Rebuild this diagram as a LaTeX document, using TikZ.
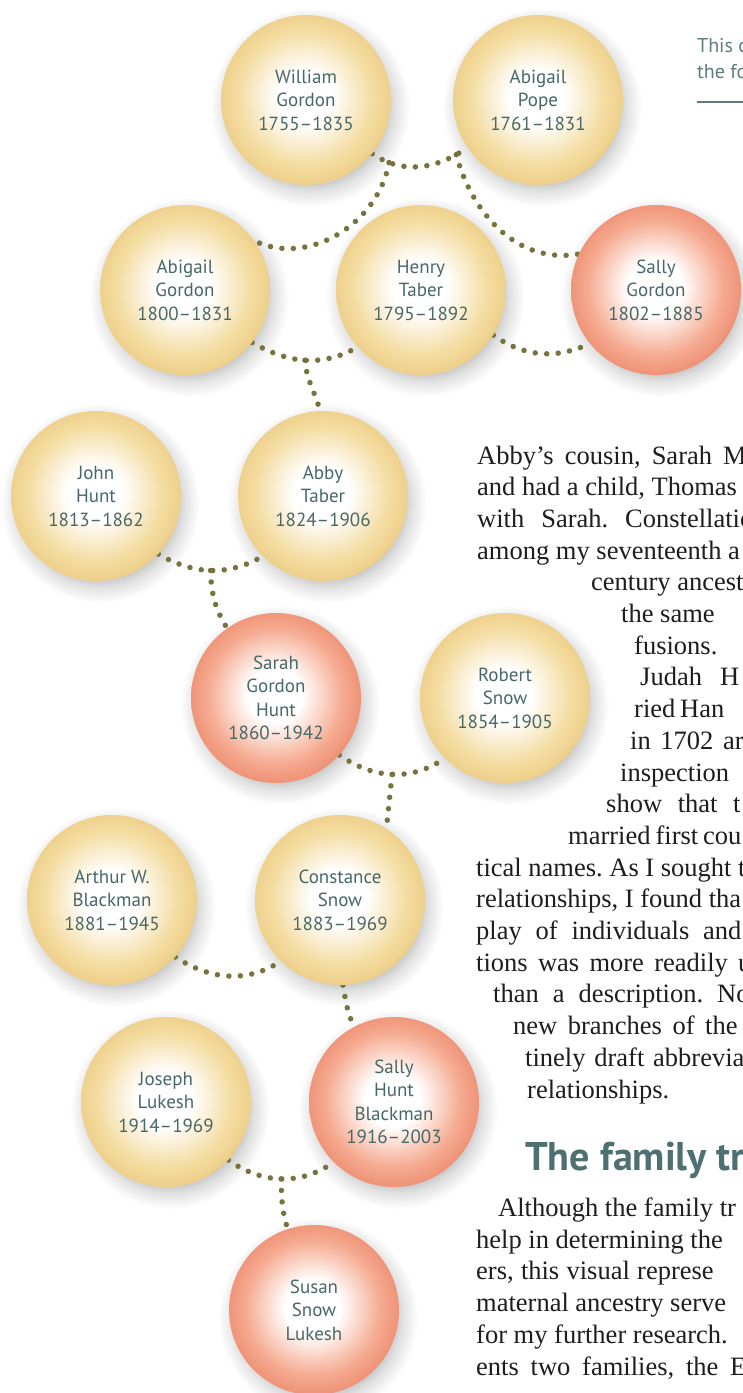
\documentclass[tikz,border=0pt]{standalone}
\usepackage{fontspec}
\setmainfont{Liberation Serif}
\newfontfamily\ballfont{PT Sans}
\usetikzlibrary{backgrounds,fadings}
\frenchspacing

\definecolor{goldmid}{RGB}{244,220,160}
\definecolor{goldedge}{RGB}{238,208,140}
\definecolor{goldrim}{RGB}{150,120,65}
\definecolor{rosemid}{RGB}{245,170,144}
\definecolor{roseedge}{RGB}{239,148,120}
\definecolor{roserim}{RGB}{150,80,62}
\definecolor{nametext}{RGB}{72,104,104}
\definecolor{kinline}{RGB}{120,114,62}
\definecolor{headteal}{RGB}{78,112,112}
\definecolor{notegray}{RGB}{96,124,124}
\definecolor{bodyblack}{RGB}{30,30,30}

\pgfdeclareradialshading{goldglow}{\pgfpoint{-0.5bp}{1bp}}{color(0bp)=(white); color(8bp)=(white); color(20bp)=(goldmid); color(25bp)=(goldedge); color(50bp)=(goldedge)}
\pgfdeclareradialshading{roseglow}{\pgfpoint{-0.5bp}{1bp}}{color(0bp)=(white); color(8bp)=(white); color(20bp)=(rosemid); color(25bp)=(roseedge); color(50bp)=(roseedge)}
\pgfdeclareradialshading{ballshadow}{\pgfpointorigin}{color(0bp)=(black!28); color(18bp)=(black!26); color(21bp)=(black!12); color(25bp)=(white); color(50bp)=(white)}
\pgfdeclareradialshading{rimfadeshade}{\pgfpointorigin}{color(0bp)=(black); color(34bp)=(black); color(50bp)=(white)}
\pgfdeclarefading{rimfade}{\pgfuseshading{rimfadeshade}}

\newcommand\spreadto[2]{\makebox[#1pt][s]{#2}}

\tikzset{
  person/.style={circle, minimum size=170pt, inner sep=0pt, align=center,
    text=nametext, font=\ballfont\fontsize{19}{23.5}\selectfont},
  goldball/.style={person, shade, shading=goldglow,
    postaction={fill=goldrim, fill opacity=0.8, path fading=rimfade,
      fading transform={shift={(-12,12)}, scale=1.2}}},
  roseball/.style={person, shade, shading=roseglow,
    postaction={fill=roserim, fill opacity=0.7, path fading=rimfade,
      fading transform={shift={(-12,12)}, scale=1.2}}},
  kin/.style={draw=kinline, line width=5.5pt, line cap=round, dash pattern=on 0pt off 11.5pt},
  body/.style={anchor=base west, inner sep=0pt, text=bodyblack,
    font=\fontsize{26.5}{31.7}\selectfont},
  heading/.style={anchor=base west, inner sep=0pt, text=headteal,
    font=\ballfont\bfseries\fontsize{40}{48}\selectfont},
  note/.style={anchor=base west, inner sep=0pt, text=notegray,
    font=\ballfont\fontsize{20}{26}\selectfont}
}

\begin{document}
\begin{tikzpicture}[x=1pt, y=1pt]
  \useasboundingbox (0,0) rectangle (743,-1393);
  \clip (0,0) rectangle (743,-1393);

  \node[goldball] (wgordon) at (306,-100) {William\\Gordon\\1755–1835};
  \node[goldball] (apope) at (538,-100) {Abigail\\Pope\\1761–1831};
  \node[goldball] (agordon) at (185,-290) {Abigail\\Gordon\\1800–1831};
  \node[goldball] (htaber) at (421,-290) {Henry\\Taber\\1795–1892};
  \node[roseball] (sgordon) at (656,-290) {Sally\\Gordon\\1802–1885};
  \node[goldball] (jhunt) at (96,-496) {John\\Hunt\\1813–1862};
  \node[goldball] (ataber) at (323,-496) {Abby\\Taber\\1824–1906};
  \node[roseball] (sghunt) at (276,-698) {Sarah\\Gordon\\Hunt\\1860–1942};
  \node[goldball] (rsnow) at (505,-698) {Robert\\Snow\\1854–1905};
  \node[goldball] (awblackman) at (112,-900) {Arthur W.\\Blackman\\1881–1945};
  \node[goldball] (csnow) at (340,-900) {Constance\\Snow\\1883–1969};
  \node[goldball] (jlukesh) at (166,-1102) {Joseph\\Lukesh\\1914–1969};
  \node[roseball] (shblackman) at (394,-1102) {Sally\\Hunt\\Blackman\\1916–2003};
  \node[roseball] (sslukesh) at (314,-1310) {Susan\\Snow\\Lukesh};

  \begin{scope}[on background layer]
    \fill[white] (0,0) rectangle (743,-1393);
    \foreach \b in {wgordon,apope,agordon,htaber,sgordon,jhunt,ataber,sghunt,rsnow,awblackman,csnow,jlukesh,shblackman,sslukesh}
      \shade[shading=ballshadow, blend mode=multiply] ([shift={(4,-7)}]\b.center) circle (100);

    \draw[kin] (wgordon.-39) to[out=-35,in=-145] coordinate[pos=0.18] (popeleft) coordinate[pos=0.88] (poperight) (apope.-146);
    \draw[kin] (popeleft) to[out=-100,in=-25] (agordon.35);
    \draw[kin] (poperight) to[out=-75,in=190] (sgordon.155);
    \draw[kin] (agordon.-38) to[out=-30,in=-150] coordinate[pos=0.5] (taberjoin) (htaber.-138);
    \draw[kin] (taberjoin) to[out=-85,in=105] (ataber.92);
    \draw[kin] (htaber.-32) to[out=-35,in=-155] (sgordon.-141);
    \draw[kin] (jhunt.-43) to[out=-30,in=-150] coordinate[pos=0.5] (huntjoin) (ataber.-135);
    \draw[kin] (huntjoin) to[out=-88,in=122] (sghunt.125);
    \draw[kin] (sghunt.-42) to[out=-35,in=-145] coordinate[pos=0.5] (snowjoin) (rsnow.-135);
    \draw[kin] (snowjoin) -- (csnow.57);
    \draw[kin] (awblackman.-42) to[out=-33,in=-147] (csnow.-134);
    \draw[kin] (csnow.-88) to[out=-80,in=115] (shblackman.118);
    \draw[kin] (jlukesh.-43) to[out=-35,in=-145] coordinate[pos=0.5] (lukeshjoin) (shblackman.-135);
    \draw[kin] (lukeshjoin) to[out=-88,in=108] (sslukesh.108);
  \end{scope}

  \node[note] (note1) at (697,-52) {This c};
  \node[note] (note2) at (697,-78) {the fo};
  \draw[notegray, line width=1.2pt] (697,-102) -- (743,-102);

  \node[body] (t1) at (477,-464) {\spreadto{246}{Abby’s cousin, Sarah \rlap{M}}};
  \node[body] (t2) at (477,-495.7) {and had a child, Thomas};
  \node[body] (t3) at (477,-527.4) {\spreadto{148}{with Sarah. \rlap{Constellatio}}};
  \node[body] (t4) at (477,-559.1) {among my seventeenth a};
  \node[body] (t5) at (591,-590.8) {century ancest};
  \node[body] (t6) at (621,-622.5) {\spreadto{39}{the \rlap{same}}};
  \node[body] (t7) at (634,-654.2) {fusions.};
  \node[body] (t8) at (640,-685.9) {\spreadto{80}{Judah \rlap{H}}};
  \node[body] (t9) at (634,-717.6) {\spreadto{46}{ried \rlap{Han}}};
  \node[body] (t10) at (630,-749.3) {\spreadto{93}{in 1702 \rlap{ar}}};
  \node[body] (t11) at (620,-781) {inspection};
  \node[body] (t12) at (606,-812.7) {\spreadto{127}{show that \rlap{t}}};
  \node[body] (t13) at (568,-844.4) {\spreadto{135}{married first \rlap{cou}}};
  \node[body] (t14) at (476,-876.1) {tical names. As I sought t};
  \node[body] (t15) at (476,-907.8) {relationships, I found tha};
  \node[body] (t16) at (476,-939.5) {\spreadto{227}{play of individuals \rlap{and}}};
  \node[body] (t17) at (476,-971.2) {\spreadto{262}{tions was more readily \rlap{u}}};
  \node[body] (t18) at (493,-1002.9) {\spreadto{224}{than a description. \rlap{Now}}};
  \node[body] (t19) at (513,-1034.6) {\spreadto{192}{new branches of \rlap{the}}};
  \node[body] (t20) at (525,-1066.3) {\spreadto{128}{tinely draft \rlap{abbreviat}}};
  \node[body] (t21) at (527,-1098) {relationships.};

  \node[heading] (head) at (525,-1170) {The family tr};

  \node[body] (p1) at (498,-1216) {Although the family tr};
  \node[body] (p2) at (476,-1248) {help in determining the};
  \node[body] (p3) at (476,-1279.8) {\spreadto{161}{ers, this visual \rlap{represe}}};
  \node[body] (p4) at (476,-1311.6) {\spreadto{194}{maternal ancestry \rlap{serve}}};
  \node[body] (p5) at (476,-1343.4) {for my further research.};
  \node[body] (p6) at (476,-1375.2) {\spreadto{254}{ents two families, the \rlap{E}}};
\end{tikzpicture}
\end{document}
